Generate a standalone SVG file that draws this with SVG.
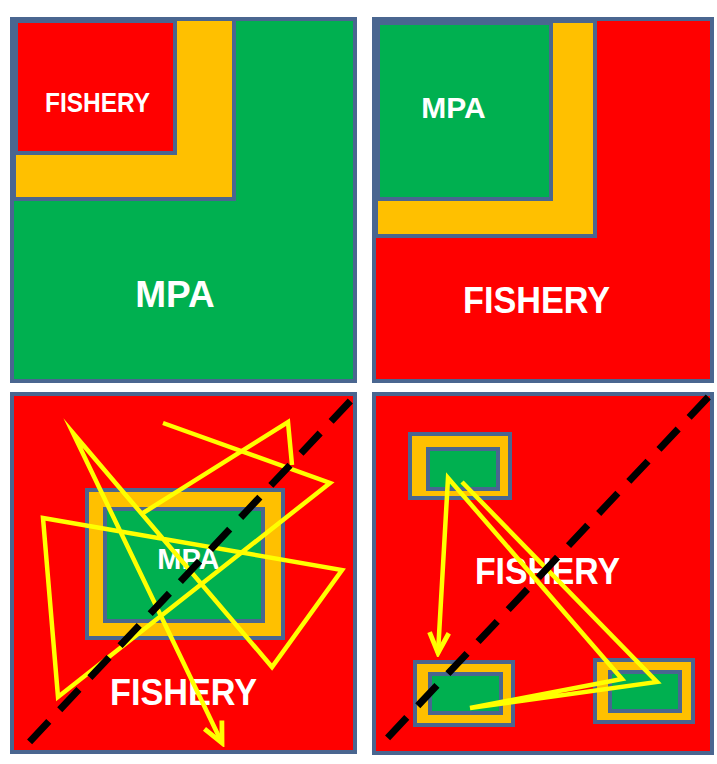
<svg xmlns="http://www.w3.org/2000/svg" width="717" height="764" viewBox="0 0 717 764">
<style>
.frame{stroke:#4a6690;stroke-width:4}
.red{fill:#ff0000}
.green{fill:#00b050}
.orange{fill:#ffc000}
.lbl{fill:#ffffff;font-family:"Liberation Sans",Arial,sans-serif;font-weight:bold;text-anchor:middle}
.trk{fill:none;stroke:#ffff00;stroke-width:4.5;stroke-linejoin:miter;stroke-miterlimit:10}
.dash{fill:none;stroke:#000000;stroke-width:7;stroke-dasharray:28 16}
</style>
<defs>
<marker id="arr" markerUnits="userSpaceOnUse" markerWidth="30" markerHeight="30" viewBox="-24 -14 28 28" refX="0" refY="0" orient="auto">
<path d="M-19,-9 L0,0 L-19,9" fill="none" stroke="#ffff00" stroke-width="4.5"/>
</marker>
</defs>
<rect width="717" height="764" fill="#ffffff"/>

<g id="panel1">
<rect class="green frame" x="12" y="19" width="343" height="362"/>
<rect class="orange frame" x="14" y="19" width="220" height="180"/>
<rect class="red frame" x="16" y="21" width="159" height="132"/>
<text class="lbl" x="97.5" y="112" font-size="28" textLength="105" lengthAdjust="spacingAndGlyphs">FISHERY</text>
<text class="lbl" x="175" y="307" font-size="37">MPA</text>
</g>

<g id="panel2">
<rect class="red frame" x="374" y="19" width="338" height="362"/>
<rect class="orange frame" x="376" y="21" width="219" height="215"/>
<rect class="green frame" x="378" y="23" width="173" height="176"/>
<text class="lbl" x="453.5" y="118" font-size="30">MPA</text>
<text class="lbl" x="536.5" y="313" font-size="36" textLength="147" lengthAdjust="spacingAndGlyphs">FISHERY</text>
</g>

<g id="panel3">
<rect class="red frame" x="12" y="394" width="343" height="358"/>
<rect class="orange frame" x="87" y="490" width="196" height="148"/>
<rect class="green frame" x="105" y="509" width="158" height="112"/>
<text class="lbl" x="188.5" y="569" font-size="29">MPA</text>
<text class="lbl" x="183.5" y="705" font-size="37" textLength="147" lengthAdjust="spacingAndGlyphs">FISHERY</text>
</g>

<g id="panel4">
<rect class="red frame" x="374" y="394" width="338" height="359"/>
<g id="patch-top">
<rect class="orange frame" x="410" y="434" width="100" height="64"/>
<rect class="green frame" x="428" y="449" width="70" height="40"/>
</g>
<g id="patch-bottom-left">
<rect class="orange frame" x="415" y="662" width="98" height="63"/>
<rect class="green frame" x="430" y="674" width="71" height="39"/>
</g>
<g id="patch-bottom-right">
<rect class="orange frame" x="595" y="660" width="98" height="62"/>
<rect class="green frame" x="610" y="672" width="70" height="39"/>
</g>
<text class="lbl" x="547.5" y="584" font-size="36" textLength="145" lengthAdjust="spacingAndGlyphs">FISHERY</text>
</g>

<g id="connectors">
<path class="trk" d="M163,423 L330,483 L58,697 L43,518 L342,570 L272,667 L73,433 L222,743" marker-end="url(#arr)"/>
<path class="trk" d="M143,513 L288,422 L292,465"/>
<line class="dash" x1="20" y1="752" x2="355" y2="396" stroke-dashoffset="30"/>
<path class="trk" d="M462,482 L657,682 L470,708 L622,679 L448,478 L438,653" marker-end="url(#arr)"/>
<line class="dash" x1="378" y1="748" x2="713" y2="392" stroke-dashoffset="30"/>
</g>
</svg>
